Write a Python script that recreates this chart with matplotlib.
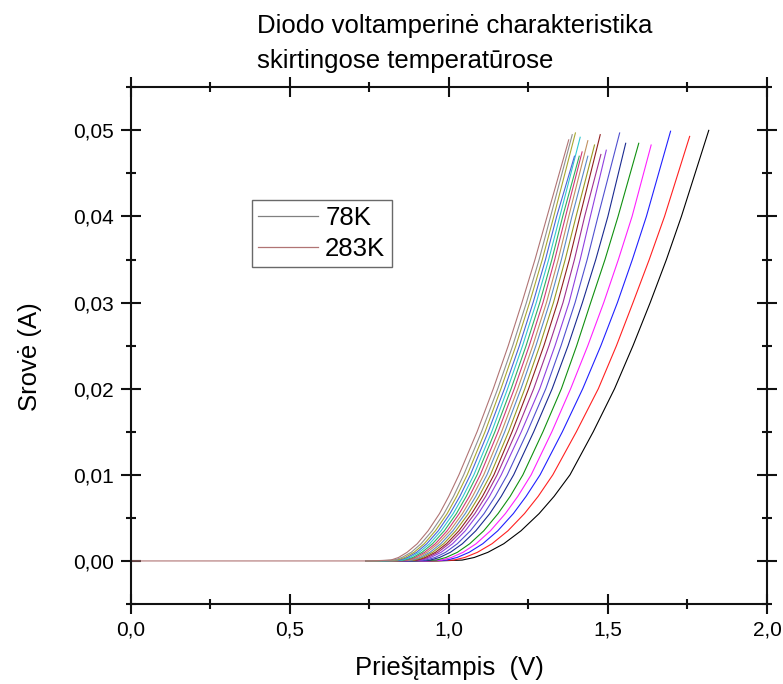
import matplotlib.pyplot as plt
from matplotlib.ticker import MultipleLocator

plt.rcParams['font.family'] = ['Liberation Sans', 'DejaVu Sans']

# Title and axis texts
title_lines = ['Diodo voltamperinė charakteristika', 'skirtingose temperatūrose']
x_label = 'Priešįtampis  (V)'
y_label = 'Srovė (A)'

x_ticks = [0.0, 0.5, 1.0, 1.5, 2.0]
x_tick_labels = ['0,0', '0,5', '1,0', '1,5', '2,0']
y_ticks = [0.00, 0.01, 0.02, 0.03, 0.04, 0.05]
y_tick_labels = ['0,00', '0,01', '0,02', '0,03', '0,04', '0,05']

# Current levels (A) at which the voltage of each curve was read
# (first two zeros: start of the record and end of the flat part)
current_levels = [0.0, 0.0, 0.0001, 0.0004, 0.001, 0.002, 0.0035, 0.0055, 0.0075,
                  0.01, 0.015, 0.02, 0.025, 0.03, 0.035, 0.04]

# Voltages (V) of each curve, leftmost (283K) to rightmost (78K)
v_start = [0.00, 0.74, 0.74, 0.74, 0.74, 0.74, 0.74, 0.74, 0.74, 0.74,
           0.74, 0.74, 0.74, 0.74, 0.74, 0.74, 0.74, 0.74, 0.74, 0.74]
v_knee = [0.754, 0.765, 0.774, 0.781, 0.788, 0.796, 0.803, 0.810, 0.818, 0.825,
          0.833, 0.840, 0.848, 0.860, 0.873, 0.891, 0.906, 0.921, 0.941, 0.964]
v_00010 = [0.818, 0.829, 0.838, 0.845, 0.853, 0.861, 0.869, 0.876, 0.884, 0.892,
           0.900, 0.907, 0.916, 0.928, 0.942, 0.961, 0.977, 0.994, 1.016, 1.042]
v_00040 = [0.842, 0.853, 0.862, 0.870, 0.878, 0.887, 0.894, 0.902, 0.910, 0.918,
           0.926, 0.934, 0.943, 0.957, 0.971, 0.991, 1.008, 1.026, 1.050, 1.080]
v_0010 = [0.869, 0.882, 0.891, 0.899, 0.907, 0.916, 0.924, 0.932, 0.941, 0.949,
          0.958, 0.966, 0.976, 0.990, 1.005, 1.027, 1.045, 1.064, 1.090, 1.123]
v_0020 = [0.901, 0.913, 0.923, 0.931, 0.940, 0.949, 0.958, 0.966, 0.975, 0.984,
          0.993, 1.001, 1.012, 1.027, 1.043, 1.066, 1.086, 1.107, 1.136, 1.173]
v_0035 = [0.935, 0.948, 0.958, 0.967, 0.976, 0.986, 0.995, 1.004, 1.013, 1.022,
          1.032, 1.041, 1.052, 1.068, 1.085, 1.110, 1.131, 1.154, 1.186, 1.227]
v_0055 = [0.971, 0.985, 0.995, 1.004, 1.014, 1.024, 1.033, 1.043, 1.052, 1.062,
          1.072, 1.082, 1.093, 1.111, 1.129, 1.155, 1.178, 1.203, 1.238, 1.284]
v_0075 = [1.000, 1.015, 1.025, 1.035, 1.045, 1.055, 1.065, 1.075, 1.085, 1.095,
          1.106, 1.116, 1.128, 1.146, 1.165, 1.193, 1.217, 1.243, 1.281, 1.331]
v_010 = [1.032, 1.047, 1.058, 1.068, 1.079, 1.089, 1.099, 1.110, 1.120, 1.131,
         1.142, 1.152, 1.165, 1.184, 1.204, 1.233, 1.259, 1.287, 1.327, 1.381]
v_015 = [1.089, 1.103, 1.114, 1.124, 1.135, 1.145, 1.155, 1.166, 1.176, 1.188,
         1.199, 1.212, 1.228, 1.247, 1.267, 1.296, 1.324, 1.357, 1.401, 1.454]
v_020 = [1.140, 1.154, 1.164, 1.175, 1.185, 1.196, 1.206, 1.217, 1.227, 1.239,
         1.251, 1.267, 1.286, 1.305, 1.325, 1.354, 1.383, 1.421, 1.470, 1.521]
v_025 = [1.187, 1.201, 1.211, 1.222, 1.232, 1.243, 1.253, 1.264, 1.274, 1.286,
         1.299, 1.315, 1.334, 1.353, 1.375, 1.402, 1.437, 1.478, 1.527, 1.579]
v_030 = [1.230, 1.244, 1.254, 1.265, 1.275, 1.286, 1.296, 1.307, 1.317, 1.329,
         1.342, 1.359, 1.378, 1.397, 1.420, 1.446, 1.487, 1.530, 1.579, 1.633]
v_035 = [1.271, 1.284, 1.294, 1.304, 1.314, 1.324, 1.333, 1.344, 1.354, 1.366,
         1.379, 1.395, 1.413, 1.435, 1.462, 1.491, 1.533, 1.577, 1.630, 1.684]
v_040 = [1.309, 1.320, 1.330, 1.339, 1.349, 1.358, 1.367, 1.377, 1.387, 1.400,
         1.412, 1.427, 1.445, 1.469, 1.500, 1.532, 1.576, 1.621, 1.678, 1.731]
# last measured point of each curve
v_tip = [1.377, 1.388, 1.398, 1.395, 1.413, 1.410, 1.419, 1.437, 1.437, 1.458,
         1.476, 1.478, 1.495, 1.537, 1.556, 1.597, 1.636, 1.697, 1.757, 1.817]
i_tip = [0.0489, 0.0495, 0.0497, 0.0470, 0.0492, 0.0470, 0.0475, 0.0488, 0.0470, 0.0483,
         0.0495, 0.0472, 0.0477, 0.0497, 0.0485, 0.0485, 0.0483, 0.0499, 0.0493, 0.0500]

colors = ['#b07474', '#909090', '#a8a830', '#4a64d8', '#30c8d0', '#30b060', '#d03878',
          '#c09060', '#5a8ac8', '#9a9a20', '#902020', '#a03090', '#9040e0', '#5050d0',
          '#1a2a90', '#109010', '#ff20ff', '#2020ff', '#ff2020', '#000000']
legend_labels = ['78K', '283K']

fig = plt.figure(figsize=(7.83, 6.84), dpi=100)
ax = fig.add_axes([130.5 / 783, 1 - 604 / 684, (767 - 130.5) / 783, (604 - 87.3) / 684])

lines = {}
for k in range(len(v_010) - 1, -1, -1):
    volts = [v_start[k], v_knee[k], v_00010[k], v_00040[k], v_0010[k], v_0020[k],
             v_0035[k], v_0055[k], v_0075[k], v_010[k], v_015[k], v_020[k],
             v_025[k], v_030[k], v_035[k], v_040[k], v_tip[k]]
    amps = current_levels + [i_tip[k]]
    ln, = ax.plot(volts, amps, color=colors[k], lw=0.8)
    lines[k] = ln

ax.set_xlim(0, 2.0)
ax.set_ylim(-0.005, 0.055)
ax.set_xticks(x_ticks)
ax.set_xticklabels(x_tick_labels)
ax.set_yticks(y_ticks)
ax.set_yticklabels(y_tick_labels)
ax.xaxis.set_minor_locator(MultipleLocator(0.25))
ax.yaxis.set_minor_locator(MultipleLocator(0.005))
ax.tick_params(which='both', direction='inout', top=True, right=True,
               width=1.5, labelsize=15, color='#111111')
ax.tick_params(which='major', length=14.4, pad=5)
ax.tick_params(which='minor', length=7.2)
for sp in ax.spines.values():
    sp.set_linewidth(1.5)
    sp.set_color('#111111')

leg = ax.legend([lines[19], lines[0]], legend_labels,
                loc='upper left', bbox_to_anchor=(252 / 783, 1 - 200 / 684),
                bbox_transform=fig.transFigure, fontsize=18.5, frameon=True,
                fancybox=False, edgecolor='#444444', handlelength=2.3,
                handletextpad=0.3, labelspacing=0.25, borderpad=0.25,
                borderaxespad=0)
leg.get_frame().set_linewidth(1.0)
leg.get_lines()[0].set_color('#808080')
for hl in leg.get_lines():
    hl.set_linewidth(0.9)

fig.text(257 / 783, 1 - 33 / 684, title_lines[0], fontsize=18.5, ha='left', va='baseline')
fig.text(257 / 783, 1 - 68 / 684, title_lines[1], fontsize=18.5, ha='left', va='baseline')
fig.text(449 / 783, 1 - 668 / 684, x_label, fontsize=18.5, ha='center', va='center')
fig.text(30 / 783, 1 - 357 / 684, y_label, fontsize=18.5, ha='center', va='center', rotation=90)

fig.savefig('out.png', dpi=100)
